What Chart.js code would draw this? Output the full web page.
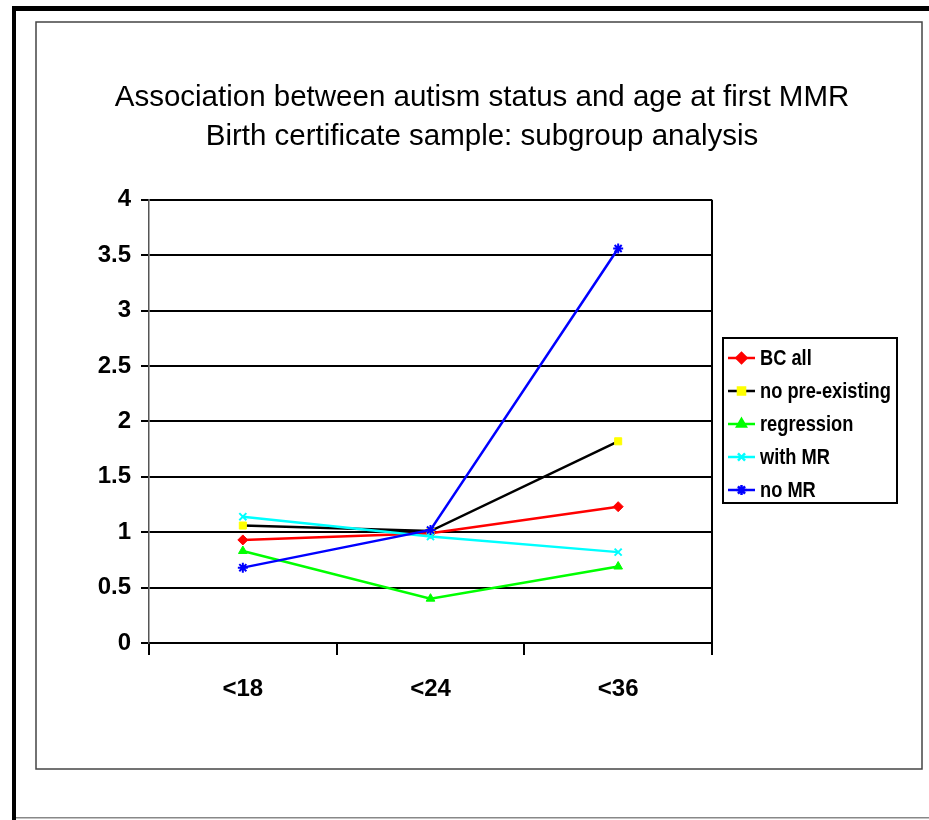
<!DOCTYPE html>
<html>
<head>
<meta charset="utf-8">
<script src="https://cdn.jsdelivr.net/npm/chart.js@4.4.0/dist/chart.umd.min.js"></script>
<style>
  body { margin: 0; background: #fff; }
  canvas { display: block; }
</style>
</head>
<body>
<canvas id="myChart" width="929" height="820"></canvas>
<script>
// data
var ageGroups = ["<18", "<24", "<36"];
var seriesNames = ["BC all", "no pre-existing", "regression", "with MR", "no MR"];
var bcAll = [0.93, 0.99, 1.23];
var noPreExisting = [1.06, 1.01, 1.82];
var regression = [0.83, 0.40, 0.69];
var withMR = [1.14, 0.96, 0.82];
var noMR = [0.68, 1.02, 3.56];
var titleLines = ["Association between autism status and age at first MMR",
                  "Birth certificate sample: subgroup analysis"];

var lineColors = ["#ff0000", "#000000", "#00ff00", "#00ffff", "#0000ff"];
var markColors = ["#ff0000", "#ffff00", "#00ff00", "#00ffff", "#0000ff"];
var markStyles = ["rectRot", "rect", "triangle", "crossRot", "star"];
var allValues = [bcAll, noPreExisting, regression, withMR, noMR];

var sans = '"Liberation Sans", Arial, sans-serif';

function markBorder(i) {
  return (markStyles[i] == "crossRot" || markStyles[i] == "star") ? 2 : 1;
}

var datasets = [];
for (var i = 0; i < seriesNames.length; i++) {
  datasets.push({
    label: seriesNames[i],
    data: allValues[i],
    borderColor: lineColors[i],
    backgroundColor: markColors[i],
    pointBackgroundColor: markColors[i],
    pointBorderColor: markColors[i],
    pointStyle: markStyles[i],
    pointRadius: 5,
    pointBorderWidth: markBorder(i),
    borderWidth: 2.5,
    tension: 0,
    fill: false,
    order: seriesNames.length - i
  });
}

// page frame behind the chart
var framePlugin = {
  id: "frame",
  beforeDraw: function(chart) {
    var c = chart.ctx;
    c.save();
    c.fillStyle = "#fff";
    c.fillRect(0, 0, chart.width, chart.height);
    c.fillStyle = "#000";
    c.fillRect(12, 6, 4, 814);
    c.fillRect(12, 6, 917, 5);
    c.fillStyle = "#888";
    c.fillRect(16, 817, 913, 1.5);
    c.strokeStyle = "#444";
    c.lineWidth = 1.5;
    c.strokeRect(36, 22, 886, 747);
    c.restore();
  }
};

// legend box like the original
var legendPlugin = {
  id: "boxLegend",
  afterDraw: function(chart) {
    var c = chart.ctx;
    var x0 = 723, y0 = 338, w = 174, h = 165;
    c.save();
    c.strokeStyle = "#000";
    c.lineWidth = 2;
    c.strokeRect(x0, y0, w, h);
    for (var i = 0; i < seriesNames.length; i++) {
      var y = 358 + i * 33;
      c.strokeStyle = lineColors[i];
      c.lineWidth = 2.5;
      c.beginPath();
      c.moveTo(728, y);
      c.lineTo(755, y);
      c.stroke();
      c.fillStyle = markColors[i];
      c.strokeStyle = markColors[i];
      Chart.helpers.drawPoint(c, {
        pointStyle: markStyles[i],
        radius: 5,
        rotation: 0,
        borderWidth: markBorder(i)
      }, 741.5, y);
      // narrow bold text, squeezed like the original
      c.save();
      c.translate(760, y + 1);
      c.scale(0.83, 1);
      c.font = "bold 22px " + sans;
      c.textBaseline = "middle";
      c.fillStyle = "#000";
      c.fillText(seriesNames[i], 0, 0);
      c.restore();
    }
    c.restore();
  }
};

var ctx = document.getElementById("myChart").getContext("2d");
var myChart = new Chart(ctx, {
  type: "line",
  data: { labels: ageGroups, datasets: datasets },
  plugins: [framePlugin, legendPlugin],
  options: {
    responsive: false,
    animation: false,
    devicePixelRatio: 1,
    layout: { padding: { left: 35, right: 0, top: 0, bottom: 0 } },
    plugins: {
      legend: { display: false },
      tooltip: { enabled: false },
      title: {
        display: true,
        text: titleLines,
        color: "#000",
        font: { family: sans, size: 29.5, weight: "normal", lineHeight: 1.3 },
        padding: { top: 79, bottom: 44 }
      }
    },
    scales: {
      x: {
        offset: true,
        grid: {
          offset: true,
          color: function(c) { return c.index === undefined ? "#000" : "rgba(0,0,0,0)"; },
          tickColor: "#000",
          tickLength: 12,
          lineWidth: 2
        },
        border: { color: "#000", width: 2 },
        ticks: { color: "#000", padding: 20, font: { family: sans, size: 24, weight: "bold" } },
        afterFit: function(s) { s.height = 177; }
      },
      y: {
        min: 0,
        max: 4,
        ticks: {
          stepSize: 0.5,
          color: "#000",
          padding: 10,
          font: { family: sans, size: 24, weight: "bold" },
          callback: function(v) { return String(v); }
        },
        grid: { color: "#000", lineWidth: 2, tickLength: 8, tickColor: "#000" },
        border: { color: "#555", width: 1.5 },
        afterFit: function(s) { s.width = 114; }
      },
      spacer: {
        position: "right",
        display: true,
        ticks: { display: false },
        grid: { display: false, drawTicks: false },
        border: { display: false },
        afterFit: function(s) { s.width = 217; }
      }
    }
  }
});
</script>
</body>
</html>
